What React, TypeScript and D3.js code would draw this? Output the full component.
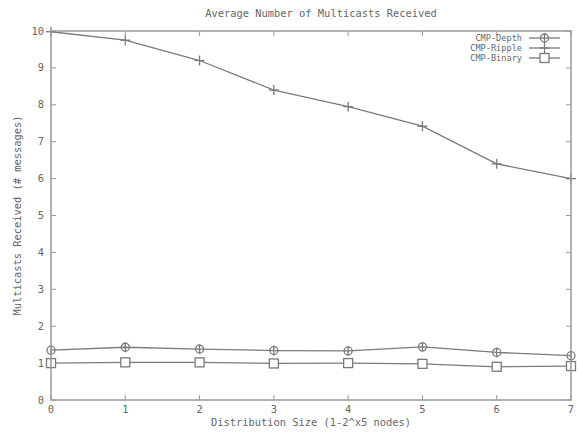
import * as d3 from "d3";

const sizes = [0, 1, 2, 3, 4, 5, 6, 7];
const yTicks = [0, 1, 2, 3, 4, 5, 6, 7, 8, 9, 10];

const depthValues = [1.35, 1.43, 1.38, 1.34, 1.33, 1.44, 1.29, 1.2];
const rippleValues = [9.98, 9.75, 9.2, 8.4, 7.95, 7.42, 6.4, 6.0];
const binaryValues = [1.0, 1.02, 1.02, 0.99, 1.0, 0.98, 0.9, 0.92];

const seriesNames = ["CMP-Depth", "CMP-Ripple", "CMP-Binary"];

const width = 580;
const height = 432;
const marginLeft = 51;
const marginRight = 9;
const marginTop = 31;
const marginBottom = 32;

const font = "'DejaVu Sans Mono', monospace";
const textColor = "#666";
const lineColor = "#7a7a7a";

type Marker = "circle" | "plus" | "square";

function MarkerShape({ kind, cx, cy }: { kind: Marker; cx: number; cy: number }) {
    if (kind === "circle") {
        return (
            <g>
                <circle cx={cx} cy={cy} r={4} fill="none" />
                <line x1={cx} x2={cx} y1={cy - 5} y2={cy + 5} />
            </g>
        );
    }
    if (kind === "plus") {
        return (
            <g>
                <line x1={cx - 5} x2={cx + 5} y1={cy} y2={cy} />
                <line x1={cx} x2={cx} y1={cy - 5} y2={cy + 5} />
            </g>
        );
    }
    return <rect x={cx - 4.5} y={cy - 4.5} width={9} height={9} fill="white" />;
}

export default function App() {
    const x = d3.scaleLinear([0, 7], [marginLeft, width - marginRight]);
    const y = d3.scaleLinear([0, 10], [height - marginBottom, marginTop]);
    const line = d3.line<number>((d, i) => x(sizes[i]), y);

    const series: { name: string; values: number[]; marker: Marker }[] = [
        { name: seriesNames[0], values: depthValues, marker: "circle" },
        { name: seriesNames[1], values: rippleValues, marker: "plus" },
        { name: seriesNames[2], values: binaryValues, marker: "square" },
    ];

    const x0 = x(0), x1 = x(7), y0 = y(0), y1 = y(10);
    const tick = 5;

    return (
        <svg
            width={width}
            height={height}
            style={{ position: "absolute", left: 0, top: 0, background: "white" }}
            fontFamily={font}
            fontSize={10.4}
        >
            <text x={(x0 + x1) / 2 + 10} y={17} textAnchor="middle" fill={textColor}>
                Average Number of Multicasts Received
            </text>

            {/* ticks on all four sides */}
            <g stroke="#999" strokeWidth={1}>
                {yTicks.map((t) => (
                    <g key={"y" + t}>
                        <line x1={x0} x2={x0 + tick} y1={y(t)} y2={y(t)} />
                        <line x1={x1} x2={x1 - tick} y1={y(t)} y2={y(t)} />
                    </g>
                ))}
                {sizes.map((s) => (
                    <g key={"x" + s}>
                        <line x1={x(s)} x2={x(s)} y1={y0} y2={y0 - tick} />
                        <line x1={x(s)} x2={x(s)} y1={y1} y2={y1 + tick} />
                    </g>
                ))}
            </g>

            {yTicks.map((t) => (
                <text key={"yl" + t} x={x0 - 7} y={y(t) + 3.5} textAnchor="end" fill={textColor}>
                    {t}
                </text>
            ))}
            {sizes.map((s) => (
                <text key={"xl" + s} x={x(s)} y={y0 + 13} textAnchor="middle" fill={textColor}>
                    {s}
                </text>
            ))}

            <text x={(x0 + x1) / 2} y={y0 + 26} textAnchor="middle" fill={textColor}>
                Distribution Size (1-2^x5 nodes)
            </text>
            <text
                transform="rotate(-90)"
                x={-(y0 + y1) / 2}
                y={21}
                textAnchor="middle"
                fill={textColor}
            >
                Multicasts Received (# messages)
            </text>

            {series.map((s) => (
                <g key={s.name} stroke={lineColor} strokeWidth={1.3} fill="none">
                    <path d={line(s.values) || undefined} />
                    {s.values.map((v, i) => (
                        <MarkerShape key={i} kind={s.marker} cx={x(sizes[i])} cy={y(v)} />
                    ))}
                </g>
            ))}

            {/* legend */}
            {series.map((s, i) => {
                const ly = 38 + i * 10;
                return (
                    <g key={"lg" + s.name}>
                        <text x={522} y={ly + 3} textAnchor="end" fill={textColor} fontSize={8.6}>
                            {s.name}
                        </text>
                        <g stroke={lineColor} strokeWidth={1.3} fill="none">
                            <line x1={529} x2={560} y1={ly} y2={ly} />
                            <MarkerShape kind={s.marker} cx={544.5} cy={ly} />
                        </g>
                    </g>
                );
            })}

            <rect
                x={x0}
                y={y1}
                width={x1 - x0}
                height={y0 - y1}
                fill="none"
                stroke="#999"
                strokeWidth={1.5}
            />
        </svg>
    );
}
